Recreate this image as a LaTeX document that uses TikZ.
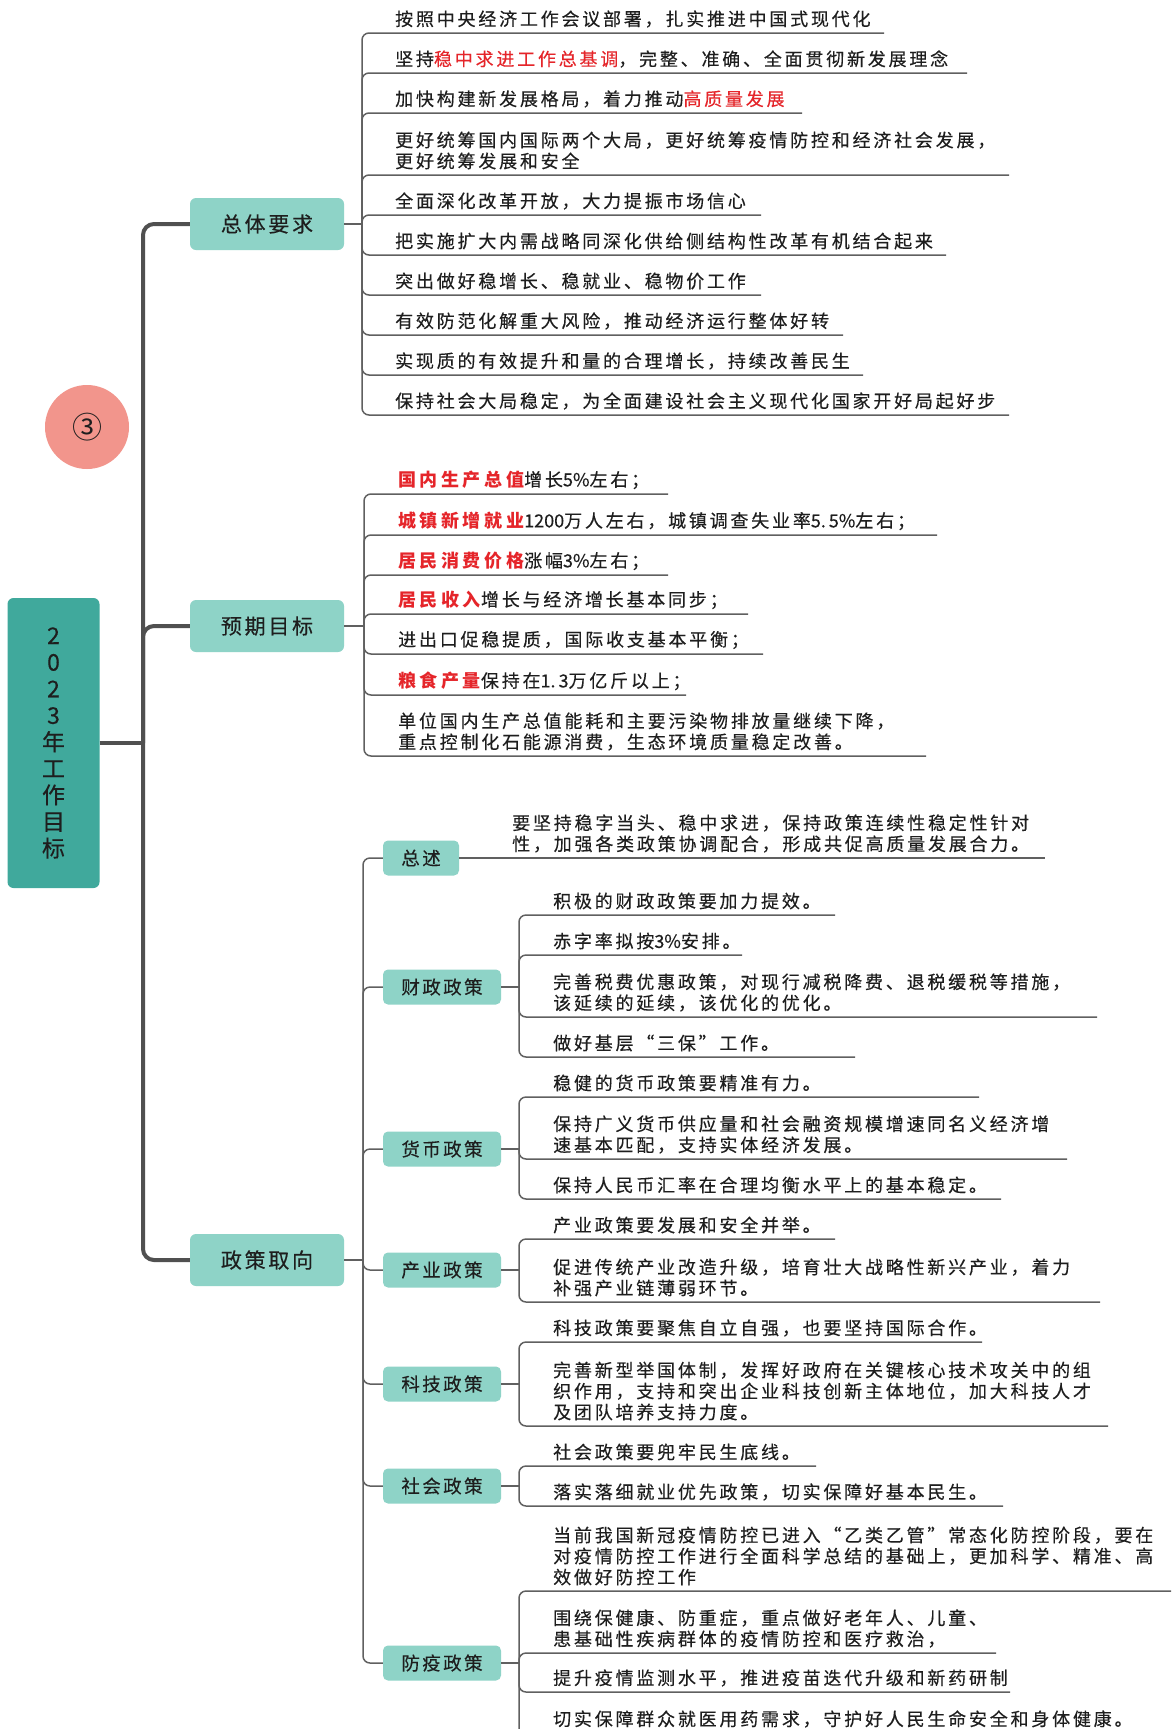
\documentclass[tikz,border=0pt]{standalone}
\usepackage{fontspec}
\setmainfont{Noto Sans CJK SC}
\newfontfamily\lsfam[LetterSpace=15.5,FakeBold=0.3]{Noto Sans CJK SC}
\newfontfamily\lsfamb[LetterSpace=20]{Noto Sans CJK SC}
\newfontfamily\mfam[LetterSpace=13,FakeBold=0.3]{Noto Sans CJK SC}
\newfontfamily\ndfam[FakeBold=0.3]{Noto Sans CJK SC}
\definecolor{rootc}{HTML}{40A99C}
\definecolor{mainc}{HTML}{8ED3C7}
\definecolor{circc}{HTML}{F2958C}
\definecolor{trunkc}{HTML}{505050}
\definecolor{linec}{HTML}{606060}
\definecolor{txtc}{HTML}{1E1E1E}
\definecolor{hired}{HTML}{E5252A}
\newcommand\leaffnt{\lsfam\fontsize{18pt}{21pt}\selectfont}
\newcommand\mainfnt{\mfam\fontsize{21pt}{24pt}\selectfont}
\newcommand\subfnt{\mfam\fontsize{18.5pt}{21pt}\selectfont}
\newcommand\hl[1]{\textcolor{hired}{#1}}
\newcommand\hb[1]{{\lsfamb\bfseries\color{hired}#1}}
\newcommand\nd[1]{{\ndfam #1}}
\newcommand\leaf[7]{%
  \node[leaf] (#1) at (#3,#4) {#7};
  \coordinate (#1e) at (#6,#5);
  \draw[br] (#2) |- (#1e);
}
\tikzset{
  trunk/.style={draw=trunkc, line width=4pt, rounded corners=11pt},
  br/.style={draw=linec, line width=1.5pt, rounded corners=7pt},
  mainbox/.style={fill=mainc, rounded corners=6pt, minimum width=154pt, minimum height=52pt, font=\mainfnt, text=txtc, inner sep=0pt},
  subbox/.style={fill=mainc, rounded corners=5pt, minimum width=118pt, minimum height=35pt, font=\subfnt, text=txtc, inner sep=0pt},
  leaf/.style={anchor=west, align=left, font=\leaffnt, inner sep=0pt, text=txtc},
}
\begin{document}
\begin{tikzpicture}[x=1pt,y=-1pt]
\useasboundingbox (0,0) rectangle (1171,1729);
\clip (0,0) rectangle (1171,1729);
\fill[white] (0,0) rectangle (1171,1729);

% root and badge
\node[fill=rootc, rounded corners=6pt, minimum width=92pt, minimum height=290pt, inner sep=0pt, align=center, text=txtc,
      font=\ndfam\fontsize{23pt}{26.6pt}\selectfont] (root) at (53.5,743) {2\\0\\2\\3\\年\\工\\作\\目\\标};
\node[circle, fill=circc, minimum size=84pt, inner sep=0pt, text=txtc, font=\fontsize{30pt}{30pt}\selectfont] (badge) at (87,427) {③};

% main nodes
\node[mainbox] (m1) at (267,224) {总体要求};
\node[mainbox] (m2) at (267,626) {预期目标};
\node[mainbox] (m3) at (267,1260) {政策取向};

% trunk
\coordinate (tj) at (143,743);
\draw[trunk] (root.east) -- (tj);
\draw[trunk] (m1.west) -| (tj) |- (m3.west);
\draw[trunk] (tj) |- (m2.west);

% ---- 总体要求 leaves
\coordinate (jA) at (362,224);
\draw[br] (m1.east) -- (jA);
\leaf{a1}{jA}{395}{19}{33}{884}{按照中央经济工作会议部署，扎实推进中国式现代化}
\leaf{a2}{jA}{395}{59}{73}{967}{坚持\hl{稳中求进工作总基调}，完整、准确、全面贯彻新发展理念}
\leaf{a3}{jA}{395}{99}{113}{802}{加快构建新发展格局，着力推动\hl{高质量发展}}
\leaf{a4}{jA}{395}{150.5}{175}{1009}{更好统筹国内国际两个大局，更好统筹疫情防控和经济社会发展，\\更好统筹发展和安全}
\leaf{a5}{jA}{395}{201}{215}{761}{全面深化改革开放，大力提振市场信心}
\leaf{a6}{jA}{395}{241}{255}{946}{把实施扩大内需战略同深化供给侧结构性改革有机结合起来}
\leaf{a7}{jA}{395}{281}{295}{761}{突出做好稳增长、稳就业、稳物价工作}
\leaf{a8}{jA}{395}{321}{335}{843}{有效防范化解重大风险，推动经济运行整体好转}
\leaf{a9}{jA}{395}{361}{375}{863}{实现质的有效提升和量的合理增长，持续改善民生}
\leaf{a10}{jA}{395}{401}{415}{1009}{保持社会大局稳定，为全面建设社会主义现代化国家开好局起好步}

% ---- 预期目标 leaves
\coordinate (jB) at (364,626);
\draw[br] (m2.east) -- (jB);
\leaf{b1}{jB}{398}{480}{494}{668}{\hb{国内生产总值}增长\nd{5\%}左右；}
\leaf{b2}{jB}{398}{521}{535}{937}{\hb{城镇新增就业}\nd{1200}万人左右，城镇调查失业率\nd{5.\,5\%}左右；}
\leaf{b3}{jB}{398}{561}{575}{668}{\hb{居民消费价格}涨幅\nd{3\%}左右；}
\leaf{b4}{jB}{398}{600}{614}{748}{\hb{居民收入}增长与经济增长基本同步；}
\leaf{b5}{jB}{398}{640}{654}{763}{进出口促稳提质，国际收支基本平衡；}
\leaf{b6}{jB}{398}{681}{695}{686}{\hb{粮食产量}保持在\nd{1.\,3}万亿斤以上；}
\leaf{b7}{jB}{398}{731.5}{756}{926}{单位国内生产总值能耗和主要污染物排放量继续下降，\\重点控制化石能源消费，生态环境质量稳定改善。}

% ---- 政策取向 sub nodes
\coordinate (jC) at (363,1260);
\draw[br] (m3.east) -- (jC);
\node[subbox, minimum width=76pt] (s0) at (421,858) {总述};
\node[subbox] (s1) at (442,987) {财政政策};
\node[subbox] (s2) at (442,1149) {货币政策};
\node[subbox] (s3) at (442,1270) {产业政策};
\node[subbox] (s4) at (442,1384) {科技政策};
\node[subbox] (s5) at (442,1486) {社会政策};
\node[subbox] (s6) at (442,1663) {防疫政策};
\foreach \s in {s0,s1,s2,s3,s4,s5,s6} {\draw[br] (jC) |- (\s.west);}

% 总述
\node[leaf] (c0) at (512,833.5) {要坚持稳字当头、稳中求进，保持政策连续性稳定性针对\\性，加强各类政策协调配合，形成共促高质量发展合力。};
\coordinate (c0e) at (1045,858);
\draw[br] (s0.east) -- (c0e);

% 财政政策
\coordinate (j1) at (519,987);
\draw[br] (s1.east) -- (j1);
\leaf{c11}{j1}{553}{901}{915}{835}{积极的财政政策要加力提效。}
\leaf{c12}{j1}{553}{941}{955}{742}{赤字率拟按\nd{3\%}安排。}
\leaf{c13}{j1}{553}{992.5}{1017}{1097}{完善税费优惠政策，对现行减税降费、退税缓税等措施，\\该延续的延续，该优化的优化。}
\leaf{c14}{j1}{553}{1043}{1057}{855}{做好基层“三保”工作。}

% 货币政策
\coordinate (j2) at (519,1149);
\draw[br] (s2.east) -- (j2);
\leaf{c21}{j2}{553}{1083}{1097}{979}{稳健的货币政策要精准有力。}
\leaf{c22}{j2}{553}{1134.5}{1159}{1067}{保持广义货币供应量和社会融资规模增速同名义经济增\\速基本匹配，支持实体经济发展。}
\leaf{c23}{j2}{553}{1185}{1199}{1001}{保持人民币汇率在合理均衡水平上的基本稳定。}

% 产业政策
\coordinate (j3) at (519,1270);
\draw[br] (s3.east) -- (j3);
\leaf{c31}{j3}{553}{1225}{1239}{835}{产业政策要发展和安全并举。}
\leaf{c32}{j3}{553}{1277.5}{1302}{1100}{促进传统产业改造升级，培育壮大战略性新兴产业，着力\\补强产业链薄弱环节。}

% 科技政策
\coordinate (j4) at (519,1384);
\draw[br] (s4.east) -- (j4);
\leaf{c41}{j4}{553}{1328}{1342}{982}{科技政策要聚焦自立自强，也要坚持国际合作。}
\leaf{c42}{j4}{553}{1391}{1426}{1108}{完善新型举国体制，发挥好政府在关键核心技术攻关中的组\\织作用，支持和突出企业科技创新主体地位，加大科技人才\\及团队培养支持力度。}

% 社会政策
\coordinate (j5) at (519,1486);
\draw[br] (s5.east) -- (j5);
\leaf{c51}{j5}{553}{1452}{1466}{816}{社会政策要兜牢民生底线。}
\leaf{c52}{j5}{553}{1492}{1506}{1003}{落实落细就业优先政策，切实保障好基本民生。}

% 防疫政策
\coordinate (j6) at (519,1663);
\draw[br] (s6.east) -- (j6);
\leaf{c61}{j6}{553}{1556}{1591}{1185}{当前我国新冠疫情防控已进入“乙类乙管”常态化防控阶段，要在\\对疫情防控工作进行全面科学总结的基础上，更加科学、精准、高\\效做好防控工作}
\leaf{c62}{j6}{553}{1628.5}{1653}{996}{围绕保健康、防重症，重点做好老年人、儿童、\\患基础性疾病群体的疫情防控和医疗救治，}
\leaf{c63}{j6}{553}{1678}{1692}{1010}{提升疫情监测水平，推进疫苗迭代升级和新药研制}
\leaf{c64}{j6}{553}{1719}{1735}{1150}{切实保障群众就医用药需求，守护好人民生命安全和身体健康。}
\end{tikzpicture}
\end{document}
